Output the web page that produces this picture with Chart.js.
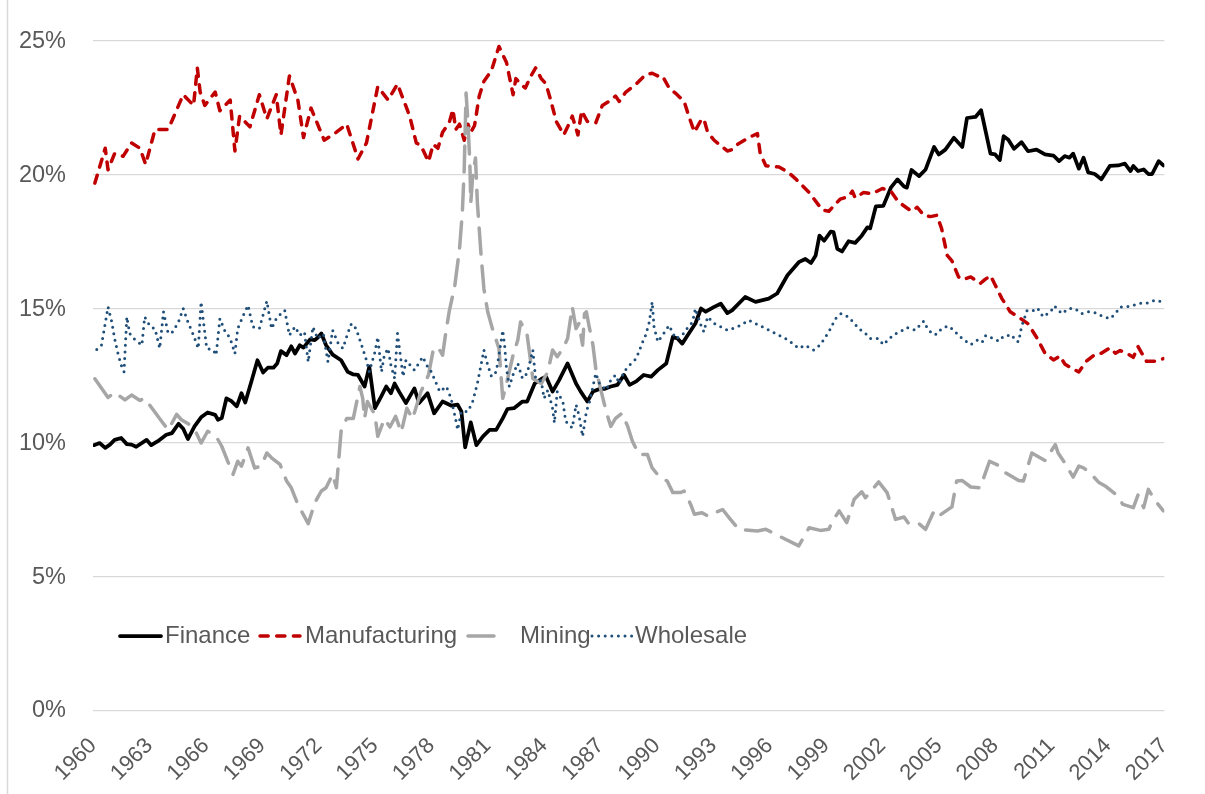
<!DOCTYPE html>
<html>
<head>
<meta charset="utf-8">
<title>Industry shares 1960-2017</title>
<script src="https://cdn.jsdelivr.net/npm/chart.js@4.4.1/dist/chart.umd.min.js"></script>
<style>
    html, body { margin: 0; padding: 0; background: #ffffff; }
    #wrap { position: relative; width: 1205px; height: 794px; }
</style>
</head>
<body>
<div id="wrap"><canvas id="share-chart"></canvas></div>
<script>
// Series names and axis ticks
const seriesNames = ['Finance', 'Manufacturing', 'Mining', 'Wholesale'];
const yearTicks = [1960, 1963, 1966, 1969, 1972, 1975, 1978, 1981, 1984, 1987, 1990,
    1993, 1996, 1999, 2002, 2005, 2008, 2011, 2014, 2017];
const percentTicks = [0, 5, 10, 15, 20, 25];

// Finance (% share)
const financeYears = [1960.05, 1960.35, 1960.65, 1960.9, 1961.15, 1961.5, 1961.8, 1962.05, 1962.3, 1962.85,
    1963.1, 1963.45, 1963.9, 1964.2, 1964.55, 1964.8, 1965.05, 1965.4, 1965.75, 1966.1,
    1966.5, 1966.65, 1966.85, 1967.1, 1967.35, 1967.65, 1967.9, 1968.1, 1968.45, 1968.75,
    1969.05, 1969.3, 1969.6, 1969.8, 1970.0, 1970.3, 1970.55, 1970.75, 1971.0, 1971.2,
    1971.55, 1971.8, 1971.95, 1972.15, 1972.4, 1972.75, 1973.2, 1973.55, 1973.85, 1974.1,
    1974.45, 1974.7, 1975.0, 1975.35, 1975.6, 1975.85, 1976.05, 1976.3, 1976.65, 1977.1,
    1977.35, 1977.8, 1978.15, 1978.6, 1979.05, 1979.4, 1979.6, 1979.8, 1980.1, 1980.4,
    1980.75, 1981.1, 1981.45, 1981.8, 1982.05, 1982.4, 1982.85, 1983.1, 1983.5, 1983.85,
    1984.1, 1984.45, 1984.8, 1985.25, 1985.7, 1985.95, 1986.3, 1986.6, 1986.95, 1987.2,
    1987.55, 1987.9, 1988.25, 1988.55, 1988.9, 1989.3, 1989.7, 1990.05, 1990.5, 1990.85,
    1991.1, 1991.35, 1991.7, 1992.05, 1992.35, 1992.6, 1993.05, 1993.4, 1993.75, 1994.0,
    1994.7, 1995.25, 1995.95, 1996.4, 1996.95, 1997.55, 1997.9, 1998.2, 1998.45, 1998.65,
    1998.9, 1999.25, 1999.4, 1999.6, 1999.85, 2000.2, 2000.55, 2000.9, 2001.2, 2001.35,
    2001.65, 2002.05, 2002.45, 2002.8, 2003.15, 2003.3, 2003.55, 2003.95, 2004.3, 2004.75,
    2005.0, 2005.35, 2005.8, 2006.25, 2006.5, 2006.95, 2007.25, 2007.75, 2008.0, 2008.25,
    2008.45, 2008.7, 2009.0, 2009.4, 2009.75, 2010.2, 2010.65, 2011.1, 2011.4, 2011.7,
    2011.95, 2012.15, 2012.45, 2012.7, 2012.95, 2013.3, 2013.65, 2014.1, 2014.55, 2014.9,
    2015.2, 2015.35, 2015.6, 2015.9, 2016.15, 2016.35, 2016.7, 2016.95];
const financeValues = [9.92, 10.0, 9.82, 9.94, 10.12, 10.19, 9.96, 9.94, 9.86, 10.12,
    9.92, 10.07, 10.31, 10.37, 10.72, 10.53, 10.15, 10.62, 10.96, 11.14,
    11.05, 10.87, 10.93, 11.67, 11.57, 11.37, 11.86, 11.51, 12.35, 13.09,
    12.63, 12.81, 12.81, 12.97, 13.43, 13.28, 13.61, 13.34, 13.65, 13.56,
    13.87, 13.84, 13.93, 14.09, 13.65, 13.30, 13.09, 12.66, 12.56, 12.54,
    12.11, 12.85, 11.30, 11.76, 12.11, 11.86, 12.22, 11.9, 11.49, 12.04,
    11.49, 11.86, 11.11, 11.55, 11.40, 11.43, 11.18, 9.84, 10.77, 9.92,
    10.25, 10.49, 10.49, 10.92, 11.27, 11.30, 11.55, 11.55, 12.22, 12.39,
    12.48, 11.92, 12.35, 12.97, 12.22, 11.92, 11.55, 11.92, 12.02, 12.02,
    12.11, 12.17, 12.54, 12.17, 12.30, 12.54, 12.48, 12.72, 12.97, 13.96,
    13.90, 13.71, 14.09, 14.46, 15.02, 14.90, 15.08, 15.2, 14.85, 14.95,
    15.45, 15.27, 15.39, 15.58, 16.26, 16.75, 16.87, 16.72, 17.0, 17.74,
    17.55, 17.89, 17.87, 17.25, 17.15, 17.53, 17.47, 17.74, 18.05, 18.01,
    18.83, 18.85, 19.53, 19.84, 19.57, 19.53, 20.19, 19.96, 20.21, 21.05,
    20.77, 20.95, 21.39, 21.05, 22.13, 22.17, 22.42, 20.80, 20.77, 20.56,
    21.45, 21.32, 20.98, 21.23, 20.89, 20.95, 20.77, 20.73, 20.52, 20.71,
    20.65, 20.80, 20.24, 20.65, 20.10, 20.04, 19.84, 20.34, 20.36, 20.43,
    20.15, 20.34, 20.15, 20.21, 20.04, 20.04, 20.52, 20.36];

// Manufacturing
const manufacturingYears = [1960.1, 1960.65, 1960.8, 1961.15, 1961.6, 1962.05, 1962.5, 1962.8, 1963.3, 1964.0,
    1964.8, 1965.35, 1965.55, 1965.7, 1965.95, 1966.5, 1966.75, 1967.3, 1967.55, 1967.8,
    1968.35, 1968.85, 1969.25, 1969.75, 1970.0, 1970.45, 1970.9, 1971.2, 1971.6, 1972.3,
    1972.95, 1973.5, 1974.1, 1974.55, 1975.15, 1975.7, 1976.2, 1976.85, 1977.2, 1977.45,
    1977.85, 1978.1, 1978.35, 1978.6, 1978.95, 1979.15, 1979.3, 1979.5, 1979.75, 1979.95,
    1980.1, 1980.3, 1980.55, 1980.8, 1981.2, 1981.6, 1982.0, 1982.35, 1982.5, 1982.75,
    1983.0, 1983.3, 1983.55, 1983.85, 1984.1, 1984.35, 1984.65, 1985.05, 1985.35, 1985.5,
    1985.8, 1986.0, 1986.3, 1986.75, 1987.1, 1987.45, 1987.8, 1988.0, 1988.35, 1988.9,
    1989.4, 1989.75, 1990.05, 1990.3, 1990.65, 1991.0, 1991.45, 1991.7, 1992.0, 1992.35,
    1992.5, 1992.7, 1993.05, 1993.75, 1994.0, 1994.3, 1994.9, 1995.35, 1995.5, 1995.8,
    1996.5, 1997.0, 1997.4, 1998.1, 1998.8, 1999.15, 1999.75, 2000.2, 2000.4, 2000.55,
    2001.0, 2001.45, 2002.0, 2002.45, 2002.85, 2003.55, 2003.85, 2004.2, 2004.55, 2004.9,
    2005.15, 2005.45, 2005.7, 2006.05, 2006.3, 2006.7, 2007.2, 2007.45, 2007.75, 2008.0,
    2008.35, 2008.8, 2009.25, 2009.75, 2010.2, 2010.65, 2011.1, 2011.45, 2011.7, 2012.05,
    2012.45, 2012.85, 2013.3, 2013.65, 2014.1, 2014.4, 2014.65, 2015.0, 2015.35, 2015.6,
    2016.05, 2016.5, 2016.95];
const manufacturingValues = [19.7, 21.0, 20.2, 20.8, 20.7, 21.2, 21.0, 20.4, 21.7, 21.7,
    23.0, 22.6, 24.0, 23.1, 22.6, 23.1, 22.4, 22.8, 20.9, 22.2,
    21.8, 23.0, 22.1, 23.0, 21.5, 23.7, 22.8, 21.4, 22.5, 21.3,
    21.6, 21.9, 20.6, 21.2, 23.3, 22.8, 23.4, 22.2, 21.2, 21.1,
    20.5, 21.15, 21.0, 21.6, 21.95, 22.45, 21.7, 21.9, 21.3, 21.9,
    21.6, 21.85, 22.95, 23.5, 23.9, 24.8, 24.2, 23.0, 23.6, 23.4,
    23.25, 23.7, 24.0, 23.6, 23.4, 22.8, 22.0, 21.5, 21.95, 22.2,
    21.5, 22.4, 22.0, 21.95, 22.6, 22.75, 22.95, 22.75, 23.1, 23.4,
    23.75, 23.8, 23.7, 23.7, 23.25, 23.05, 22.75, 22.2, 21.6, 22.05,
    22.1, 21.6, 21.3, 20.9, 20.95, 21.15, 21.4, 21.55, 20.8, 20.35,
    20.3, 20.1, 19.85, 19.35, 18.7, 18.65, 19.1, 19.2, 19.4, 19.15,
    19.35, 19.3, 19.5, 19.4, 19.0, 18.65, 18.8, 18.5, 18.45, 18.5,
    18.0, 17.0, 16.8, 16.2, 16.1, 16.2, 15.95, 16.1, 16.25, 15.9,
    15.4, 14.9, 14.7, 14.45, 13.95, 13.35, 13.1, 13.25, 12.95, 12.8,
    12.65, 13.05, 13.3, 13.35, 13.55, 13.35, 13.45, 13.35, 13.2, 13.6,
    13.05, 13.05, 13.15];

// Mining
const miningYears = [1960.1, 1960.8, 1961.15, 1961.7, 1962.05, 1962.5, 1962.75, 1963.2, 1963.65, 1964.0,
    1964.45, 1964.7, 1965.15, 1965.5, 1965.75, 1966.1, 1966.55, 1966.85, 1967.2, 1967.45,
    1967.7, 1967.9, 1968.25, 1968.6, 1968.95, 1969.25, 1969.5, 1969.95, 1970.3, 1970.55,
    1970.9, 1971.45, 1971.8, 1972.15, 1972.4, 1972.75, 1972.95, 1973.2, 1973.5, 1973.85,
    1974.2, 1974.35, 1974.45, 1974.6, 1975.0, 1975.15, 1975.5, 1975.8, 1976.1, 1976.4,
    1976.7, 1977.0, 1977.45, 1977.85, 1978.1, 1978.35, 1978.6, 1978.75, 1978.95, 1979.25,
    1979.5, 1979.65, 1979.75, 1979.85, 1979.95, 1980.05, 1980.1, 1980.2, 1980.35, 1980.45,
    1980.65, 1980.8, 1981.0, 1981.25, 1981.6, 1981.8, 1982.0, 1982.35, 1982.6, 1982.75,
    1983.1, 1983.3, 1983.4, 1983.85, 1984.2, 1984.45, 1984.7, 1985.0, 1985.25, 1985.5,
    1985.7, 1985.85, 1986.05, 1986.15, 1986.25, 1986.4, 1986.6, 1986.75, 1987.0, 1987.3,
    1987.55, 1987.8, 1988.15, 1988.45, 1988.7, 1989.05, 1989.5, 1989.75, 1990.1, 1990.55,
    1990.85, 1991.25, 1991.45, 1991.8, 1992.0, 1992.4, 1992.7, 1993.5, 1993.85, 1994.35,
    1995.35, 1995.8, 1996.5, 1997.55, 1998.1, 1998.7, 1999.15, 1999.35, 1999.7, 2000.1,
    2000.5, 2000.9, 2001.1, 2001.8, 2002.25, 2002.7, 2003.15, 2003.4, 2003.95, 2004.3,
    2004.75, 2005.0, 2005.7, 2005.95, 2006.25, 2006.7, 2007.2, 2007.7, 2008.25, 2008.55,
    2009.25, 2009.5, 2009.95, 2010.65, 2011.2, 2011.35, 2011.7, 2012.15, 2012.45, 2012.7,
    2013.05, 2013.5, 2013.85, 2014.4, 2014.8, 2015.35, 2015.6, 2015.9, 2016.15, 2016.5,
    2016.95];
const miningValues = [12.4, 11.70, 11.89, 11.61, 11.79, 11.59, 11.67, 11.24, 10.81, 10.49,
    11.07, 10.87, 10.68, 10.37, 10.0, 10.44, 10.25, 9.88, 9.26, 8.83,
    9.32, 9.14, 9.82, 9.07, 9.14, 9.63, 9.45, 9.20, 8.58, 8.33,
    7.71, 6.99, 7.77, 8.21, 8.33, 8.83, 8.33, 10.44, 10.92, 10.92,
    12.11, 11.67, 10.92, 11.55, 11.06, 10.25, 10.9, 10.6, 11.0, 10.4,
    11.3, 10.9, 11.92, 12.54, 13.47, 13.59, 13.28, 14.02, 14.9, 15.88,
    17.24, 18.60, 20.21, 23.06, 21.95, 20.46, 18.97, 19.96, 20.64, 18.97,
    16.99, 15.75, 14.9, 14.27, 13.53, 11.67, 12.22, 13.28, 13.84, 14.52,
    14.02, 12.97, 12.41, 12.22, 12.66, 13.47, 13.22, 13.53, 13.90, 15.08,
    14.27, 14.46, 13.65, 14.83, 14.90, 14.34, 13.65, 12.78, 12.04, 11.18,
    10.62, 10.92, 11.11, 10.62, 10.07, 9.57, 9.57, 9.07, 8.77, 8.58,
    8.15, 8.15, 8.21, 7.71, 7.34, 7.40, 7.28, 7.52, 7.21, 6.78,
    6.72, 6.78, 6.53, 6.16, 6.84, 6.74, 6.78, 7.09, 7.47, 7.03,
    7.90, 8.18, 7.96, 8.55, 8.15, 7.15, 7.24, 6.99, 6.99, 6.78,
    7.47, 7.28, 7.62, 8.58, 8.60, 8.36, 8.33, 9.32, 9.14, 8.89,
    8.60, 8.58, 9.63, 9.35, 9.94, 9.63, 9.26, 8.73, 9.14, 9.07,
    8.89, 8.54, 8.40, 8.09, 7.71, 7.59, 8.06, 7.59, 8.27, 7.86,
    7.47];

// Wholesale
const wholesaleYears = [1960.2, 1960.45, 1960.8, 1961.0, 1961.15, 1961.35, 1961.5, 1961.65, 1961.8, 1961.95,
    1962.25, 1962.5, 1962.6, 1962.75, 1963.05, 1963.3, 1963.55, 1963.75, 1964.0, 1964.25,
    1964.55, 1964.8, 1965.05, 1965.35, 1965.6, 1965.75, 1966.05, 1966.4, 1966.55, 1966.75,
    1967.0, 1967.3, 1967.55, 1967.7, 1968.0, 1968.25, 1968.5, 1968.85, 1969.25, 1969.5,
    1969.75, 1970.0, 1970.2, 1970.45, 1970.75, 1971.0, 1971.25, 1971.45, 1971.7, 1971.95,
    1972.25, 1972.5, 1972.75, 1973.05, 1973.3, 1973.55, 1973.75, 1974.0, 1974.35, 1974.55,
    1974.7, 1975.0, 1975.15, 1975.35, 1975.5, 1975.7, 1975.85, 1976.05, 1976.2, 1976.5,
    1976.65, 1977.1, 1977.55, 1977.75, 1978.0, 1978.15, 1978.45, 1978.8, 1979.05, 1979.3,
    1979.4, 1979.6, 1979.95, 1980.2, 1980.45, 1980.8, 1981.0, 1981.2, 1981.45, 1981.6,
    1981.8, 1981.9, 1982.0, 1982.15, 1982.4, 1982.6, 1982.85, 1983.1, 1983.4, 1983.55,
    1983.85, 1984.0, 1984.2, 1984.45, 1984.55, 1984.7, 1985.0, 1985.15, 1985.5, 1985.7,
    1985.85, 1986.05, 1986.25, 1986.4, 1986.6, 1986.75, 1986.95, 1987.3, 1987.55, 1987.8,
    1988.0, 1988.25, 1988.55, 1988.9, 1989.25, 1989.4, 1989.6, 1989.75, 1989.85, 1990.05,
    1990.3, 1990.65, 1991.0, 1991.35, 1991.6, 1991.9, 1992.05, 1992.35, 1992.5, 1992.7,
    1993.05, 1993.75, 1994.3, 1994.9, 1995.6, 1996.3, 1997.0, 1997.55, 1997.9, 1998.35,
    1998.7, 1999.15, 1999.5, 1999.8, 2000.2, 2000.75, 2001.1, 2001.35, 2001.8, 2002.05,
    2002.6, 2002.95, 2003.3, 2003.75, 2004.2, 2004.35, 2004.65, 2004.9, 2005.15, 2005.5,
    2005.8, 2006.05, 2006.3, 2006.7, 2007.05, 2007.3, 2007.5, 2007.8, 2008.2, 2008.45,
    2008.9, 2009.05, 2009.25, 2009.4, 2009.7, 2010.05, 2010.25, 2010.55, 2010.95, 2011.15,
    2011.55, 2011.9, 2012.25, 2012.6, 2012.95, 2013.3, 2013.65, 2014.1, 2014.4, 2014.65,
    2015.0, 2015.45, 2015.8, 2016.15, 2016.5, 2016.95];
const wholesaleValues = [13.49, 13.65, 15.08, 14.52, 13.90, 13.28, 12.91, 12.66, 14.71, 14.09,
    13.84, 13.71, 13.65, 14.71, 14.34, 14.27, 13.53, 14.90, 14.09, 14.15,
    14.52, 15.02, 14.52, 14.02, 13.53, 15.27, 13.53, 13.47, 13.28, 14.64,
    14.21, 13.90, 13.34, 14.27, 14.77, 15.14, 14.34, 14.27, 15.30, 14.27,
    14.64, 14.83, 14.95, 14.02, 14.34, 14.02, 14.15, 13.03, 14.34, 13.90,
    14.09, 13.03, 14.21, 13.71, 13.53, 14.09, 14.46, 14.27, 13.53, 13.09,
    12.66, 13.40, 13.96, 12.66, 13.28, 13.53, 12.91, 12.41, 14.09, 12.48,
    13.09, 12.72, 13.22, 12.91, 12.66, 12.41, 11.92, 12.11, 11.67, 10.87,
    10.49, 11.18, 11.18, 11.55, 12.22, 13.47, 12.91, 12.48, 12.66, 13.28,
    14.21, 13.65, 12.78, 12.11, 12.66, 12.97, 12.41, 12.60, 13.47, 12.41,
    12.30, 11.67, 11.98, 11.30, 10.75, 11.92, 11.55, 10.81, 10.56, 11.43,
    11.06, 10.25, 11.18, 11.49, 12.11, 12.60, 12.22, 11.98, 12.35, 12.54,
    12.22, 12.66, 12.91, 13.15, 13.78, 14.02, 14.52, 15.27, 14.34, 13.78,
    14.02, 14.39, 13.90, 14.02, 14.27, 14.52, 15.02, 14.39, 14.15, 14.71,
    14.46, 14.21, 14.34, 14.58, 14.34, 14.09, 13.84, 13.53, 13.65, 13.47,
    13.67, 14.15, 14.64, 14.83, 14.71, 14.27, 14.09, 13.90, 13.90, 13.67,
    14.05, 14.15, 14.31, 14.21, 14.55, 14.34, 14.06, 14.06, 14.27, 14.37,
    14.21, 14.02, 13.87, 13.67, 13.84, 13.75, 14.02, 13.93, 13.80, 13.99,
    14.04, 13.84, 13.78, 14.34, 14.95, 14.95, 15.04, 14.71, 14.90, 15.12,
    14.83, 15.02, 15.02, 14.83, 14.90, 14.87, 14.75, 14.64, 14.83, 15.08,
    15.08, 15.16, 15.23, 15.23, 15.33, 15.27];

const FONT = "'Liberation Sans', Arial, sans-serif";
const TEXT_COLOR = '#595959';
const GRID_COLOR = '#d9d9d9';

// Legend sample [start, end] and text x, relative to the chart area's left edge
const legendSamples = [[27, 68], [167, 207], [375, 403], [499, 541]];
const legendTextX = [72, 212, 427, 542];

function toPoints(years, values) {
    return years.map((year, i) => ({ x: year, y: values[i] }));
}

// Thin frame line at the left of the picture
const frameLine = {
    id: 'frameLine',
    beforeDraw(chart) {
        const { ctx } = chart;
        ctx.save();
        ctx.strokeStyle = GRID_COLOR;
        ctx.lineWidth = 1.5;
        ctx.beginPath();
        ctx.moveTo(7.5, 0);
        ctx.lineTo(7.5, chart.height);
        ctx.stroke();
        ctx.restore();
    }
};

// Legend drawn inside the plot, near the bottom
const insideLegend = {
    id: 'insideLegend',
    afterDatasetsDraw(chart) {
        const { ctx, chartArea } = chart;
        const y = chartArea.bottom - 75;
        ctx.save();
        ctx.font = '24px ' + FONT;
        ctx.textBaseline = 'middle';
        ctx.textAlign = 'left';
        chart.data.datasets.forEach((ds, i) => {
            const [s, e] = legendSamples[i];
            ctx.beginPath();
            ctx.strokeStyle = ds.borderColor;
            ctx.lineWidth = ds.borderWidth;
            ctx.lineCap = ds.borderCapStyle;
            ctx.setLineDash(ds.borderDash || []);
            ctx.moveTo(chartArea.left + s, y);
            ctx.lineTo(chartArea.left + e, y);
            ctx.stroke();
            ctx.setLineDash([]);
            ctx.fillStyle = TEXT_COLOR;
            ctx.fillText(ds.label, chartArea.left + legendTextX[i], y);
        });
        ctx.restore();
    }
};

function initializeShareChart() {
    const ctx = document.getElementById('share-chart');
    Chart.defaults.font.family = FONT;
    Chart.defaults.color = TEXT_COLOR;

    new Chart(ctx, {
        type: 'line',
        data: {
            datasets: [
                {
                    label: seriesNames[0],
                    data: toPoints(financeYears, financeValues),
                    borderColor: '#000000',
                    borderWidth: 3.75,
                    borderCapStyle: 'round',
                    order: 4
                },
                {
                    label: seriesNames[1],
                    data: toPoints(manufacturingYears, manufacturingValues),
                    borderColor: '#c00000',
                    borderWidth: 3.5,
                    borderDash: [8.2, 8.5],
                    borderCapStyle: 'round',
                    order: 3
                },
                {
                    label: seriesNames[2],
                    data: toPoints(miningYears, miningValues),
                    borderColor: '#a6a6a6',
                    borderWidth: 3.5,
                    borderDash: [26, 12],
                    borderCapStyle: 'round',
                    order: 2
                },
                {
                    label: seriesNames[3],
                    data: toPoints(wholesaleYears, wholesaleValues),
                    borderColor: '#1f4e79',
                    borderWidth: 3,
                    borderDash: [0, 6.6],
                    borderCapStyle: 'round',
                    order: 1
                }
            ]
        },
        options: {
            responsive: true,
            maintainAspectRatio: false,
            animation: false,
            layout: {
                padding: { top: 38, right: 39, bottom: 0, left: 0 }
            },
            elements: {
                point: { radius: 0 },
                line: { tension: 0, borderJoinStyle: 'round' }
            },
            plugins: {
                legend: { display: false },
                tooltip: { enabled: false }
            },
            scales: {
                x: {
                    type: 'linear',
                    min: 1960,
                    max: 2017,
                    afterBuildTicks: scale => {
                        scale.ticks = yearTicks.map(v => ({ value: v }));
                    },
                    afterFit: scale => { scale.height = 83; },
                    grid: { display: false, drawTicks: false },
                    border: { display: false },
                    ticks: {
                        autoSkip: false,
                        minRotation: 45,
                        maxRotation: 45,
                        padding: 22,
                        color: TEXT_COLOR,
                        font: { size: 22 },
                        callback: v => String(v)
                    }
                },
                y: {
                    min: 0,
                    max: 25,
                    afterBuildTicks: scale => {
                        scale.ticks = percentTicks.map(v => ({ value: v }));
                    },
                    afterFit: scale => { scale.width = 93; },
                    grid: { color: GRID_COLOR, lineWidth: 1.3, drawTicks: false },
                    border: { display: false },
                    ticks: {
                        padding: 27,
                        color: TEXT_COLOR,
                        font: { size: 23.5 },
                        callback: v => v + '%'
                    }
                }
            }
        },
        plugins: [frameLine, insideLegend]
    });
}

initializeShareChart();
</script>
</body>
</html>
